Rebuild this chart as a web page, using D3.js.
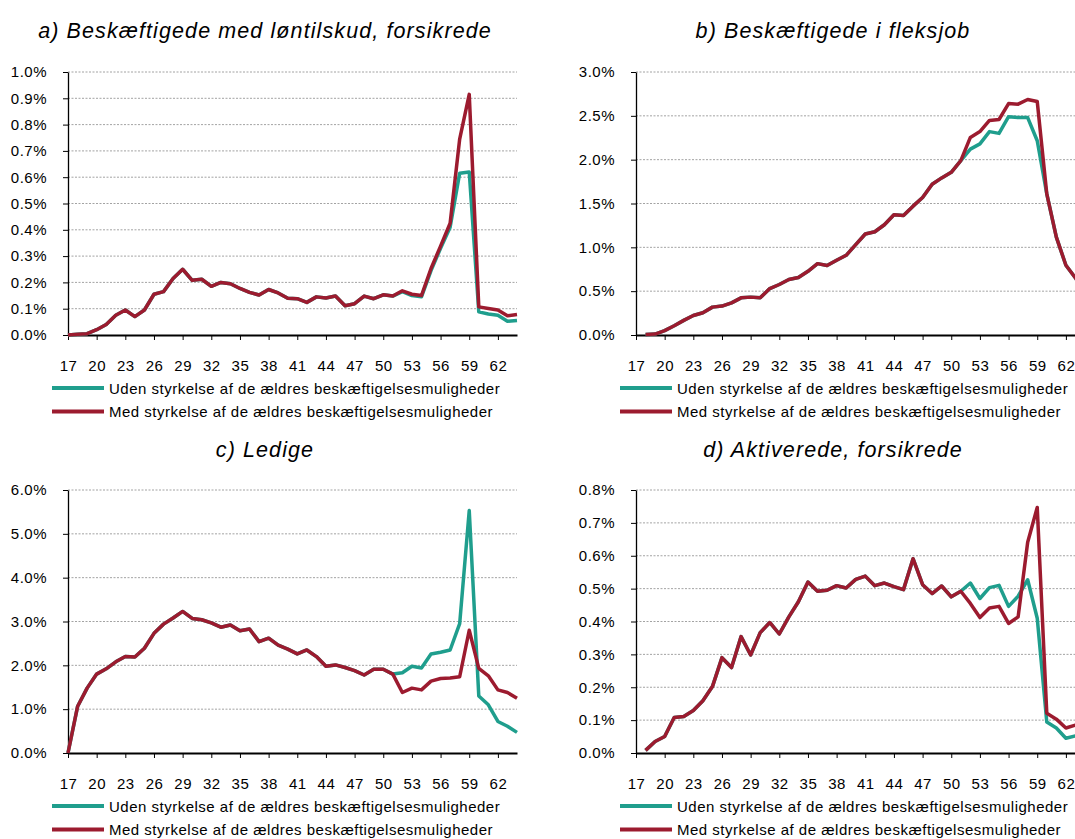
<!DOCTYPE html>
<html>
<head>
<meta charset="utf-8">
<script src="https://cdn.jsdelivr.net/npm/d3@7"></script>
<style>
  body { margin: 0; background: #fff; }
  svg { display: block; font-family: "Liberation Sans", Arial, sans-serif; }
  .grid line { stroke: #8c8c8c; stroke-width: 0.8; stroke-dasharray: 2,1.5; }
  .axis text { font-size: 15px; fill: #000; letter-spacing: 0.5px; }
  .title { font-size: 21.5px; font-style: italic; letter-spacing: 1.1px; }
  .legend text { font-size: 15px; letter-spacing: 0.5px; }
</style>
</head>
<body>
<div id="chart"></div>
<script>
// ages on the x axis
var ages = d3.range(17, 65);
var xTickAges = [17, 20, 23, 26, 29, 32, 35, 38, 41, 44, 47, 50, 53, 56, 59, 62];

var seriesNames = ["Uden styrkelse af de ældres beskæftigelsesmuligheder",
                   "Med styrkelse af de ældres beskæftigelsesmuligheder"];
var seriesColors = ["#1f9e8d", "#9c1b2f"];

// a) Beskæftigede med løntilskud, forsikrede (pct.)
var loentilskudUden = [0.00,0.003,0.005,0.02,0.04,0.075,0.095,0.07,0.095,0.155,0.165,0.215,0.25,0.208,0.212,0.185,0.2,0.195,0.177,0.162,0.152,0.173,0.16,0.14,0.138,0.124,0.145,0.141,0.148,0.111,0.119,0.148,0.138,0.153,0.148,0.165,0.15,0.145,0.245,0.33,0.41,0.615,0.62,0.088,0.08,0.075,0.052,0.055];
var loentilskudMed  = [0.00,0.003,0.005,0.02,0.04,0.075,0.095,0.07,0.095,0.155,0.165,0.215,0.25,0.208,0.212,0.185,0.2,0.195,0.177,0.162,0.152,0.173,0.16,0.14,0.138,0.124,0.145,0.141,0.148,0.111,0.119,0.148,0.138,0.153,0.148,0.168,0.155,0.15,0.253,0.338,0.425,0.745,0.915,0.107,0.101,0.095,0.073,0.078];

// b) Beskæftigede i fleksjob (pct.)
var fleksjobUden = [null,0.005,0.01,0.05,0.105,0.167,0.223,0.254,0.318,0.33,0.367,0.424,0.432,0.424,0.53,0.576,0.633,0.655,0.727,0.814,0.792,0.852,0.909,1.03,1.152,1.178,1.258,1.371,1.364,1.47,1.568,1.72,1.792,1.856,1.99,2.12,2.18,2.32,2.30,2.49,2.48,2.48,2.216,1.61,1.117,0.795,0.65,0.5];
var fleksjobMed  = [null,0.005,0.01,0.05,0.105,0.167,0.223,0.254,0.318,0.33,0.367,0.424,0.432,0.424,0.53,0.576,0.633,0.655,0.727,0.814,0.792,0.852,0.909,1.03,1.152,1.178,1.258,1.371,1.364,1.47,1.568,1.72,1.792,1.856,1.99,2.254,2.32,2.447,2.458,2.64,2.633,2.686,2.663,1.61,1.117,0.795,0.65,0.5];

// c) Ledige (pct.)
var ledigeUden = [0,1.06,1.48,1.80,1.92,2.08,2.20,2.19,2.39,2.73,2.94,3.08,3.23,3.07,3.04,2.97,2.87,2.92,2.79,2.83,2.54,2.62,2.46,2.37,2.26,2.35,2.20,1.98,2.01,1.95,1.88,1.78,1.91,1.91,1.80,1.83,1.98,1.94,2.26,2.30,2.35,2.95,5.53,1.30,1.10,0.72,0.61,0.47];
var ledigeMed  = [0,1.06,1.48,1.80,1.92,2.08,2.20,2.19,2.39,2.73,2.94,3.08,3.23,3.07,3.04,2.97,2.87,2.92,2.79,2.83,2.54,2.62,2.46,2.37,2.26,2.35,2.20,1.98,2.01,1.95,1.88,1.78,1.91,1.91,1.80,1.38,1.48,1.44,1.64,1.70,1.71,1.74,2.80,1.93,1.76,1.44,1.38,1.25];

// d) Aktiverede, forsikrede (pct.)
var aktiveredeUden = [null,0.008,0.035,0.05,0.108,0.111,0.129,0.159,0.202,0.29,0.26,0.354,0.298,0.366,0.397,0.362,0.414,0.46,0.52,0.492,0.495,0.509,0.502,0.528,0.538,0.509,0.517,0.506,0.497,0.591,0.512,0.485,0.508,0.475,0.492,0.517,0.47,0.503,0.51,0.446,0.477,0.527,0.41,0.094,0.076,0.045,0.052,0.058];
var aktiveredeMed  = [null,0.008,0.035,0.05,0.108,0.111,0.129,0.159,0.202,0.29,0.26,0.354,0.298,0.366,0.397,0.362,0.414,0.46,0.52,0.492,0.495,0.509,0.502,0.528,0.538,0.509,0.517,0.506,0.497,0.591,0.512,0.485,0.508,0.475,0.492,0.455,0.412,0.441,0.446,0.394,0.414,0.641,0.747,0.121,0.103,0.076,0.085,0.09];

// y tick values per panel
var yTicksA = [0,0.1,0.2,0.3,0.4,0.5,0.6,0.7,0.8,0.9,1.0];
var yTicksB = [0,0.5,1.0,1.5,2.0,2.5,3.0];
var yTicksC = [0,1,2,3,4,5,6];
var yTicksD = [0,0.1,0.2,0.3,0.4,0.5,0.6,0.7,0.8];

var svgWidth = 1075, svgHeight = 839;
var plotW = 449, plotH = 263;

var svg = d3.select("#chart").append("svg")
  .attr("width", svgWidth)
  .attr("height", svgHeight);

var panels = [
  {title: "a) Beskæftigede med løntilskud, forsikrede", left: 68, top: 72, titleX: 265, titleY: 38, ticks: yTicksA, series: [loentilskudUden, loentilskudMed]},
  {title: "b) Beskæftigede i fleksjob", left: 636, top: 72, titleX: 833, titleY: 38, ticks: yTicksB, series: [fleksjobUden, fleksjobMed]},
  {title: "c) Ledige", left: 68, top: 490, titleX: 265, titleY: 457, ticks: yTicksC, series: [ledigeUden, ledigeMed]},
  {title: "d) Aktiverede, forsikrede", left: 636, top: 490, titleX: 833, titleY: 457, ticks: yTicksD, series: [aktiveredeUden, aktiveredeMed]}
];

var fmt = d3.format(".1f");

panels.forEach(function(p) {
  svg.append("text")
    .attr("class", "title")
    .attr("x", p.titleX)
    .attr("y", p.titleY)
    .attr("text-anchor", "middle")
    .text(p.title);

  var g = svg.append("g")
    .attr("transform", `translate(${p.left}, ${p.top})`);

  var x = d3.scaleLinear().domain([17, 64]).range([0, plotW]);
  var y = d3.scaleLinear().domain([0, d3.max(p.ticks)]).range([plotH, 0]);

  // gridlines
  g.append("g")
    .attr("class", "grid")
    .selectAll("line")
    .data(p.ticks.filter(d => d > 0))
    .enter()
    .append("line")
    .attr("x1", 0)
    .attr("x2", plotW)
    .attr("y1", d => y(d))
    .attr("y2", d => y(d));

  // y axis
  var leftAxis = d3.axisLeft(y)
    .tickValues(p.ticks)
    .tickFormat(d => fmt(d) + "%")
    .tickSize(5)
    .tickSizeOuter(0)
    .tickPadding(16);
  var ya = g.append("g").attr("class", "axis").call(leftAxis);
  ya.select(".domain").attr("stroke", "#000").attr("stroke-width", 1.3);
  ya.selectAll(".tick line").attr("stroke", "#000");
  ya.selectAll("text").attr("font-family", "Liberation Sans, Arial, sans-serif");

  // x axis
  var bottomAxis = d3.axisBottom(x)
    .tickValues(xTickAges)
    .tickFormat(d3.format("d"))
    .tickSize(5)
    .tickSizeOuter(0)
    .tickPadding(20);
  var xa = g.append("g")
    .attr("class", "axis")
    .attr("transform", `translate(0, ${plotH})`)
    .call(bottomAxis);
  xa.select(".domain").attr("stroke", "#000").attr("stroke-width", 2);
  xa.selectAll(".tick line").attr("stroke", "#000");
  xa.selectAll("text").attr("font-family", "Liberation Sans, Arial, sans-serif");

  // lines
  var line = d3.line()
    .defined(d => d[1] != null)
    .x(d => x(d[0]))
    .y(d => y(d[1]));

  p.series.forEach(function(vals, i) {
    g.append("path")
      .datum(ages.map((a, k) => [a, vals[k]]))
      .attr("fill", "none")
      .attr("stroke", seriesColors[i])
      .attr("stroke-width", 3.5)
      .attr("stroke-linejoin", "round")
      .attr("d", line);
  });

  // legend
  var legend = g.append("g")
    .attr("class", "legend")
    .attr("transform", `translate(0, ${plotH + 53})`);
  seriesNames.forEach(function(name, i) {
    legend.append("line")
      .attr("x1", -16)
      .attr("x2", 36)
      .attr("y1", i * 23.5)
      .attr("y2", i * 23.5)
      .attr("stroke", seriesColors[i])
      .attr("stroke-width", 4);
    legend.append("text")
      .attr("x", 41)
      .attr("y", i * 23.5 + 5.5)
      .text(name);
  });
});
</script>
</body>
</html>
